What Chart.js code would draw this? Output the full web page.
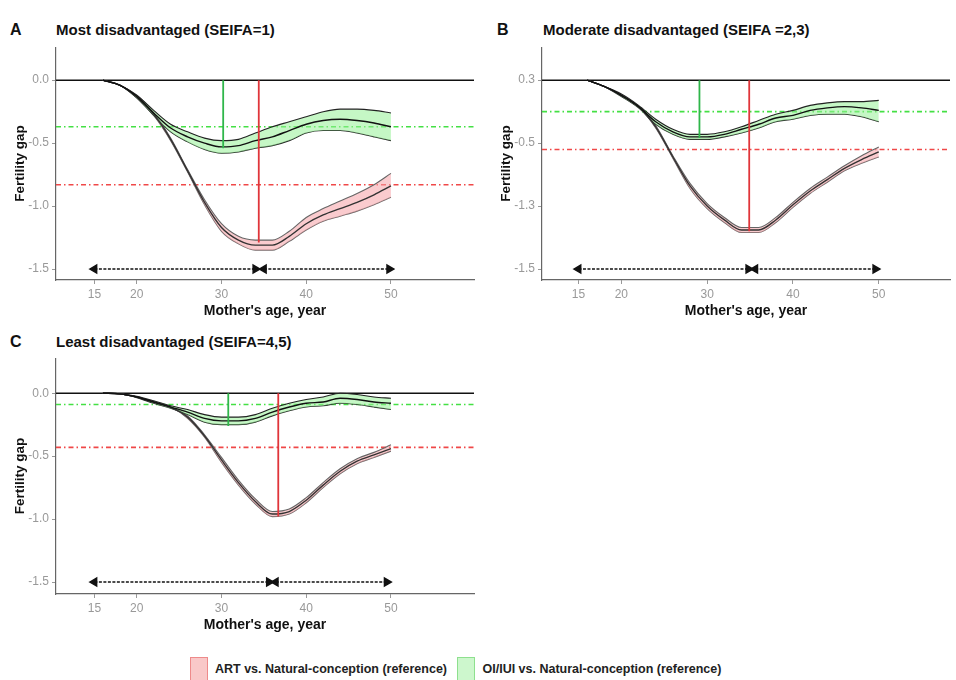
<!DOCTYPE html>
<html>
<head>
<meta charset="utf-8">
<script src="https://cdn.jsdelivr.net/npm/chart.js@4.4.0/dist/chart.umd.min.js"></script>
<style>
  body { margin: 0; background: #fff; font-family: "Liberation Sans", Arial, sans-serif; }
  #page { position: relative; width: 956px; height: 680px; overflow: hidden; }
  .panel { position: absolute; }
  .lbl { position: absolute; font-weight: bold; font-size: 16px; color: #111; line-height: 18px; }
  .ttl { position: absolute; font-weight: bold; font-size: 15px; color: #111; line-height: 18px; }
  .legend { position: absolute; top: 657px; left: 190px; font-size: 12.5px; font-weight: bold; color: #222; }
  .legend span { display: inline-block; vertical-align: middle; }
  .box { width: 16px; height: 22px; margin-right: 7px; }
</style>
</head>
<body>
<div id="page">
  <div class="lbl" style="left:10px;top:21px">A</div>
  <div class="ttl" style="left:56px;top:21px">Most disadvantaged (SEIFA=1)</div>
  <div class="lbl" style="left:497px;top:21px">B</div>
  <div class="ttl" style="left:543px;top:21px">Moderate disadvantaged (SEIFA =2,3)</div>
  <div class="lbl" style="left:10px;top:333px">C</div>
  <div class="ttl" style="left:56px;top:333px">Least disadvantaged (SEIFA=4,5)</div>

  <div class="panel" style="left:0;top:37px"><canvas id="chartA" width="480" height="287"></canvas></div>
  <div class="panel" style="left:486px;top:37px"><canvas id="chartB" width="470" height="287"></canvas></div>
  <div class="panel" style="left:0;top:348px"><canvas id="chartC" width="480" height="290"></canvas></div>

  <div class="legend">
    <span class="box" style="background:#f9c8c8;border:1px solid #ee8a8a"></span><span style="margin-right:7px">ART vs. Natural-conception (reference)</span>
    <span class="box" style="background:#cdf7cd;border:1px solid #8ee08e"></span><span>OI/IUI vs. Natural-conception (reference)</span>
  </div>
</div>

<script>
const ages = [16, 18, 20, 22, 24, 26, 28, 30, 32, 34, 36, 38, 40, 42, 44, 46, 48, 50];
const xTicks = [15, 20, 30, 40, 50];
const yTicks = [0, -0.5, -1, -1.5];
const yLabelsA = ['0.0', '-0.5', '-1.0', '-1.5'];
const yLabelsB = ['0.3', '-0.5', '-1.3', '-1.5'];
const yLabelsC = ['0.0', '-0.5', '-1.0', '-1.5'];

// Panel A - SEIFA 1
const artMeanA = [0, -0.04, -0.13, -0.27, -0.47, -0.72, -0.97, -1.17, -1.27, -1.31, -1.31, -1.24, -1.14, -1.07, -1.02, -0.97, -0.91, -0.84];
const artHiA   = [0, -0.04, -0.12, -0.26, -0.46, -0.71, -0.95, -1.14, -1.24, -1.27, -1.27, -1.20, -1.09, -1.02, -0.96, -0.90, -0.83, -0.74];
const artLoA   = [0, -0.04, -0.14, -0.28, -0.48, -0.73, -0.99, -1.20, -1.30, -1.35, -1.35, -1.28, -1.19, -1.12, -1.08, -1.04, -0.99, -0.93];
const oiMeanA  = [0, -0.04, -0.13, -0.26, -0.38, -0.45, -0.50, -0.53, -0.52, -0.48, -0.45, -0.40, -0.35, -0.32, -0.31, -0.32, -0.34, -0.37];
const oiHiA    = [0, -0.04, -0.12, -0.24, -0.35, -0.41, -0.46, -0.48, -0.47, -0.42, -0.37, -0.33, -0.29, -0.25, -0.23, -0.23, -0.24, -0.26];
const oiLoA    = [0, -0.04, -0.14, -0.28, -0.41, -0.49, -0.55, -0.58, -0.57, -0.54, -0.52, -0.48, -0.42, -0.40, -0.40, -0.42, -0.45, -0.48];
const refA = { oiLevel: -0.37, artLevel: -0.83, oiPeak: [30.2, -0.54], artPeak: [34.4, -1.29], arrowL: [15, 34.0], arrowR: [35.0, 49.8] };

// Panel B - SEIFA 2,3
const artMeanB = [0, -0.05, -0.12, -0.21, -0.37, -0.61, -0.84, -1.00, -1.11, -1.19, -1.19, -1.11, -0.99, -0.88, -0.79, -0.70, -0.63, -0.57];
const artHiB   = [0, -0.05, -0.12, -0.21, -0.36, -0.60, -0.82, -0.98, -1.09, -1.17, -1.17, -1.09, -0.97, -0.86, -0.77, -0.68, -0.60, -0.53];
const artLoB   = [0, -0.05, -0.12, -0.21, -0.38, -0.62, -0.86, -1.02, -1.13, -1.21, -1.21, -1.13, -1.01, -0.90, -0.81, -0.72, -0.66, -0.61];
const oiMeanB  = [0, -0.05, -0.12, -0.21, -0.33, -0.41, -0.45, -0.45, -0.43, -0.39, -0.35, -0.30, -0.28, -0.24, -0.22, -0.21, -0.22, -0.24];
const oiHiB    = [0, -0.05, -0.11, -0.20, -0.31, -0.39, -0.43, -0.43, -0.41, -0.37, -0.32, -0.27, -0.24, -0.20, -0.18, -0.17, -0.17, -0.16];
const oiLoB    = [0, -0.05, -0.13, -0.22, -0.35, -0.43, -0.47, -0.47, -0.45, -0.42, -0.38, -0.33, -0.31, -0.28, -0.27, -0.27, -0.29, -0.33];
const refB = { oiLevel: -0.25, artLevel: -0.55, oiPeak: [29.1, -0.46], artPeak: [34.9, -1.20], arrowL: [15, 34.8], arrowR: [35.6, 49.6] };

// Panel C - SEIFA 4,5
const artMeanC = [0, -0.005, -0.03, -0.07, -0.11, -0.19, -0.34, -0.53, -0.71, -0.86, -0.96, -0.94, -0.85, -0.73, -0.62, -0.54, -0.49, -0.44];
const artHiC   = [0, -0.005, -0.03, -0.07, -0.11, -0.18, -0.33, -0.51, -0.69, -0.84, -0.94, -0.92, -0.83, -0.71, -0.60, -0.52, -0.47, -0.41];
const artLoC   = [0, -0.005, -0.03, -0.07, -0.11, -0.20, -0.35, -0.55, -0.73, -0.88, -0.98, -0.96, -0.87, -0.75, -0.64, -0.56, -0.51, -0.46];
const oiMeanC  = [0, -0.005, -0.03, -0.07, -0.11, -0.15, -0.20, -0.22, -0.22, -0.20, -0.15, -0.11, -0.08, -0.07, -0.04, -0.05, -0.07, -0.08];
const oiHiC    = [0, -0.005, -0.025, -0.06, -0.10, -0.13, -0.17, -0.19, -0.19, -0.17, -0.12, -0.08, -0.05, -0.03, 0.00, -0.01, -0.03, -0.04];
const oiLoC    = [0, -0.005, -0.035, -0.08, -0.12, -0.17, -0.23, -0.25, -0.25, -0.23, -0.18, -0.14, -0.11, -0.10, -0.08, -0.09, -0.11, -0.13];
const refC = { oiLevel: -0.09, artLevel: -0.43, oiPeak: [30.8, -0.26], artPeak: [36.7, -0.98], arrowL: [15, 35.6], arrowR: [36.4, 49.5] };

const pts = ys => ages.map((a, i) => ({ x: a, y: ys[i] }));

function line(data, color, width, extra) {
    return Object.assign({
        data: data, borderColor: color, borderWidth: width, pointRadius: 0,
        fill: false, cubicInterpolationMode: 'monotone'
    }, extra || {});
}

function arrow(span) {
    return {
        data: [{ x: span[0], y: -1.5 }, { x: span[1], y: -1.5 }],
        borderColor: '#111', borderWidth: 1.5, borderDash: [3, 1.5],
        pointStyle: 'triangle', pointRotation: [-90, 90], pointRadius: 4.5,
        pointBackgroundColor: '#111', pointBorderColor: '#111', fill: false
    };
}

function makePanel(id, s, xr, yr, yLabels) {
    const ctx = document.getElementById(id).getContext('2d');
    const datasets = [
        // arrows and reference lines on top
        arrow(s.ref.arrowL),
        arrow(s.ref.arrowR),
        line([{ x: s.ref.oiPeak[0], y: 0 }, { x: s.ref.oiPeak[0], y: s.ref.oiPeak[1] }], '#2fb64a', 1.8),
        line([{ x: s.ref.artPeak[0], y: 0 }, { x: s.ref.artPeak[0], y: s.ref.artPeak[1] }], '#e0353a', 1.8),
        line(pts(s.oiMean), '#111', 1.4),
        line(pts(s.artMean), '#333', 1.4),
        line(pts(s.oiHi), '#222', 1.1, { fill: '+1', backgroundColor: 'rgba(150,240,150,0.55)' }),
        line(pts(s.oiLo), '#222', 1.1),
        line(pts(s.artHi), '#666', 1.1, { fill: '+1', backgroundColor: 'rgba(245,160,165,0.55)' }),
        line(pts(s.artLo), '#666', 1.1),
        line([{ x: xr[0], y: s.ref.oiLevel }, { x: xr[1], y: s.ref.oiLevel }], '#44e044', 1.6, { borderDash: [5, 3, 1.5, 3] }),
        line([{ x: xr[0], y: s.ref.artLevel }, { x: xr[1], y: s.ref.artLevel }], '#f04848', 1.6, { borderDash: [5, 3, 1.5, 3] }),
        line([{ x: xr[0], y: 0 }, { x: xr[1], y: 0 }], '#111', 1.4)
    ];

    return new Chart(ctx, {
        type: 'line',
        data: { datasets: datasets },
        options: {
            responsive: false,
            animation: false,
            layout: { padding: { top: 10, left: 10, right: 0, bottom: 0 } },
            plugins: { legend: { display: false }, tooltip: { enabled: false } },
            scales: {
                x: {
                    type: 'linear', min: xr[0], max: xr[1],
                    afterBuildTicks: sc => { sc.ticks = xTicks.map(v => ({ value: v })); },
                    afterFit: sc => { sc.height = 44; },
                    grid: { display: true, drawOnChartArea: false, drawTicks: true, tickLength: 4, color: '#999' },
                    border: { display: true, color: '#666', width: 1.2 },
                    ticks: { color: '#999', padding: 3, font: { size: 12, family: "'Liberation Sans', Arial" } },
                    title: {
                        display: true, text: "Mother's age, year", color: '#111',
                        padding: { top: 0, bottom: 4 },
                        font: { size: 14, weight: 'bold', family: "'Liberation Sans', Arial" }
                    }
                },
                y: {
                    type: 'linear', min: yr[0], max: yr[1],
                    afterBuildTicks: sc => { sc.ticks = yTicks.map(v => ({ value: v })); },
                    afterFit: sc => { sc.width = 46; },
                    grid: { display: true, drawOnChartArea: false, drawTicks: true, tickLength: 4, color: '#999' },
                    border: { display: true, color: '#666', width: 1.2 },
                    ticks: {
                        color: '#999', padding: 3, font: { size: 12, family: "'Liberation Sans', Arial" },
                        callback: v => yLabels[yTicks.indexOf(v)]
                    },
                    title: {
                        display: true, text: 'Fertility gap', color: '#111',
                        padding: { top: 2, bottom: 0 },
                        font: { size: 13.5, weight: 'bold', family: "'Liberation Sans', Arial" }
                    }
                }
            }
        }
    });
}

makePanel('chartA', { artMean: artMeanA, artHi: artHiA, artLo: artLoA, oiMean: oiMeanA, oiHi: oiHiA, oiLo: oiLoA, ref: refA },
    [10.47, 59.8], [-1.587, 0.262], yLabelsA);
makePanel('chartB', { artMean: artMeanB, artHi: artHiB, artLo: artLoB, oiMean: oiMeanB, oiHi: oiHiB, oiLo: oiLoB, ref: refB },
    [10.75, 58.3], [-1.587, 0.262], yLabelsB);
makePanel('chartC', { artMean: artMeanC, artHi: artHiC, artLo: artLoC, oiMean: oiMeanC, oiHi: oiHiC, oiLo: oiLoC, ref: refC },
    [10.47, 59.8], [-1.595, 0.278], yLabelsC);
</script>
</body>
</html>
